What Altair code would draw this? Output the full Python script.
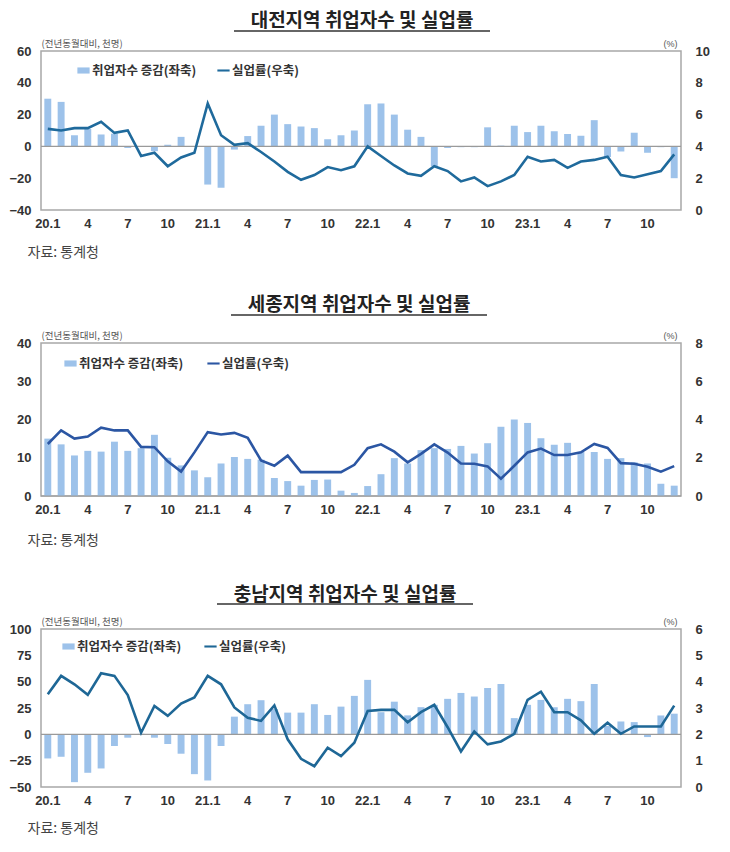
import altair as alt
import pandas as pd

KR = "Noto Sans CJK KR"
NUM = "Liberation Sans"

# 48 months: 2020.1 ~ 2023.12
years = [20, 21, 22, 23]
months = list(range(1, 13))
cats = [f"{y}-{m:02d}" for y in years for m in months]
tick_cats = cats[::3]
tick_labels = ["20.1", "4", "7", "10", "21.1", "4", "7", "10",
               "22.1", "4", "7", "10", "23.1", "4", "7", "10"]

lbl_bar = "취업자수 증감(좌축)"
lbl_line = "실업률(우축)"
source_text = "자료: 통계청"
unit_left = "(전년동월대비, 천명)"
unit_right = "(%)"

# 대전
dj_title = "대전지역 취업자수 및 실업률"
dj_emp = [30, 28, 7, 11, 7.5, 8, -1, 0, -3, 1, 6, 0,
          -24, -26, -2, 6.5, 13, 20, 14, 12.5, 11.5, 4.5, 7, 10,
          26.5, 27, 20, 10.5, 6, -12.5, -1, -0.5, -0.5, 12, 0.5, 13,
          9, 13, 9.5, 7.8, 6.7, 16.5, -6.7, -3.2, 8.6, -4, -0.5, -20]
dj_rate = [5.1, 5.0, 5.15, 5.15, 5.55, 4.85, 5.0, 3.4, 3.6, 2.75, 3.3, 3.6,
           6.7, 4.7, 4.1, 4.2, 3.65, 3.05, 2.4, 1.9, 2.2, 2.7, 2.5, 2.75,
           4.0, 3.4, 2.8, 2.3, 2.15, 2.75, 2.45, 1.8, 2.05, 1.5, 1.8, 2.2,
           3.35, 3.05, 3.15, 2.65, 3.05, 3.15, 3.35, 2.2, 2.05, 2.25, 2.45, 3.5]

# 세종
sj_title = "세종지역 취업자수 및 실업률"
sj_emp = [15.0, 13.5, 10.6, 11.8, 11.6, 14.2, 11.8, 12.5, 16, 10, 8, 6.7,
          4.9, 8.5, 10.2, 9.7, 9.5, 4.7, 3.9, 2.7, 4.2, 4.3, 1.4, 0.8,
          2.6, 5.7, 9.9, 8.5, 12.0, 12.5, 12.3, 13.1, 11.1, 13.8, 18.1, 20,
          19.1, 15.1, 13.4, 13.9, 11.5, 11.5, 9.7, 9.9, 8.8, 8.5, 3.2, 2.7]
sj_rate = [2.72, 3.43, 3.0, 3.11, 3.57, 3.43, 3.43, 2.57, 2.55, 1.81, 1.28, 2.28,
           3.34, 3.22, 3.3, 3.04, 1.86, 1.58, 2.11, 1.25, 1.25, 1.25, 1.25, 1.63,
           2.5, 2.7, 2.32, 1.76, 2.2, 2.7, 2.27, 1.7, 1.69, 1.55, 0.9, 1.58,
           2.28, 2.48, 2.14, 2.14, 2.28, 2.72, 2.51, 1.72, 1.69, 1.53, 1.27, 1.56]

# 충남
cn_title = "충남지역 취업자수 및 실업률"
cn_emp = [-22.9, -21.3, -45.4, -36.5, -32.4, -11.1, -3.2, 0.5, -3.2, -9.2, -18.4, -37.8,
          -43.8, -11.1, 16.8, 28.6, 32.4, 24, 20.6, 20.6, 28.6, 18.4, 26.3, 36.5,
          51.7, 21, 31, 18, 25.8, 28, 33.7, 39.3, 35.9, 44, 47.8, 15.4,
          28, 32.7, 25.8, 33.7, 31.5, 47.8, 8, 12.2, 11.6, -2.6, 17.9, 19.6]
cn_rate = [3.52, 4.22, 3.9, 3.5, 4.32, 4.22, 3.49, 2.06, 3.08, 2.7, 3.17, 3.4,
           4.22, 3.9, 3.02, 2.63, 2.51, 3.1, 1.81, 1.07, 0.79, 1.49, 1.17, 1.68,
           2.89, 2.93, 2.93, 2.46, 2.84, 3.12, 2.27, 1.35, 2.11, 1.62, 1.73, 2.02,
           3.31, 3.62, 2.84, 2.84, 2.53, 2.02, 2.44, 2.02, 2.3, 2.3, 2.3, 3.09]

BAR_COLOR = "#9dc2ea"
W = 640

label_map = "{" + ",".join(f"'{c}':'{l}'" for c, l in zip(tick_cats, tick_labels)) + "}"
legend_df = pd.DataFrame({"s": [lbl_bar, lbl_line]})
SHAPE_BAR = "M-1,-0.5H1V0.5H-1Z"
SHAPE_LINE = "M-1,-0.17H1V0.17H-1Z"


def panel(title, emp, rate, left_dom, left_ticks, right_dom, right_ticks,
          line_color, height, title_cx, title_y, ul_y, leg_x, leg_y, col_pad, src_y):
    df = pd.DataFrame({"month": cats, "emp": emp, "rate": rate})
    base = alt.Chart(df)
    x = alt.X("month:O", sort=cats,
              scale=alt.Scale(paddingInner=0.48, paddingOuter=0.25),
              axis=alt.Axis(values=tick_cats, labelExpr=f"{label_map}[datum.value]",
                            labelAngle=0, domain=False, ticks=False, labelOverlap=False,
                            labelFont=NUM, labelFontSize=13, labelFontWeight="bold",
                            labelColor="#333", labelPadding=7,
                            title=source_text, titleFont=KR, titleFontSize=14,
                            titleFontWeight="normal", titleColor="#444",
                            titleAnchor="start", titleAlign="left", titleX=-14,
                            titleY=src_y, titleBaseline="middle"))
    legend = alt.Legend(
        orient="none", legendX=leg_x, legendY=leg_y, direction="horizontal",
        title=None, labelFont=KR, labelFontSize=12.5, labelFontWeight="bold",
        labelColor="#333", symbolSize=150, columnPadding=col_pad, padding=0,
        labelOffset=2, symbolOpacity=1, symbolStrokeWidth=0)
    left_axis = alt.Axis(orient="left", values=left_ticks, grid=False, domain=False,
                         ticks=False, labelOverlap=False, labelFont=NUM, labelFontSize=13,
                         labelFontWeight="bold", labelColor="#333", labelPadding=10,
                         title=unit_left, titleAngle=0, titleX=0, titleY=-8,
                         titleAlign="left", titleBaseline="middle", titleFont=KR,
                         titleFontSize=9.5, titleFontWeight="normal", titleColor="#555")
    left_scale = alt.Scale(domain=left_dom, nice=False, zero=False)
    bars = base.mark_bar(color=BAR_COLOR).encode(
        x=x, y=alt.Y("emp:Q", scale=left_scale, axis=left_axis))
    zero = alt.Chart(pd.DataFrame({"v": [0]})).mark_rule(color="#9a9a9a", strokeWidth=1.2).encode(
        y=alt.Y("v:Q", scale=left_scale, axis=left_axis))
    left = alt.layer(bars, zero)
    line = base.mark_line(strokeWidth=2.6, color=line_color).encode(
        x=x,
        y=alt.Y("rate:Q", scale=alt.Scale(domain=right_dom, nice=False, zero=False),
                axis=alt.Axis(orient="right", values=right_ticks, grid=False, domain=False,
                              ticks=False, labelOverlap=False, labelFont=NUM, labelFontSize=13,
                              labelFontWeight="bold", labelColor="#333", labelPadding=14,
                              title=unit_right, titleAngle=0, titleX=-4, titleY=-8,
                              titleAlign="right", titleBaseline="middle", titleFont=NUM,
                              titleFontSize=9, titleFontWeight="normal", titleColor="#555")),
    )
    leg = alt.Chart(legend_df).mark_point(filled=True, opacity=0).encode(
        x=alt.value(0), y=alt.value(0),
        color=alt.Color("s:N", scale=alt.Scale(domain=[lbl_bar, lbl_line],
                                               range=[BAR_COLOR, line_color]), legend=legend),
        shape=alt.Shape("s:N", scale=alt.Scale(domain=[lbl_bar, lbl_line],
                                               range=[SHAPE_BAR, SHAPE_LINE]), legend=legend),
    )
    tdf = alt.Data(values=[{"t": title}])
    ttl = alt.Chart(tdf).mark_text(font=KR, fontSize=19, fontWeight="bold", color="#222",
                                   align="center", baseline="middle").encode(
        x=alt.value(title_cx), y=alt.value(title_y), text="t:N")
    ul = alt.Chart(tdf).mark_rule(color="#333", strokeWidth=1.5).encode(
        x=alt.value(title_cx - 128), x2=alt.value(title_cx + 128), y=alt.value(ul_y))
    return alt.layer(left, line, leg, ttl, ul).resolve_scale(y="independent").properties(
        width=W, height=height)


p1 = panel(dj_title, dj_emp, dj_rate, [-40, 60], [-40, -20, 0, 20, 40, 60],
           [0, 10], [0, 2, 4, 6, 8, 10], "#1f6a9c", 159, 321, -30, -20, 36, 13, 20, 42)
p2 = panel(sj_title, sj_emp, sj_rate, [0, 40], [0, 10, 20, 30, 40],
           [0, 8], [0, 2, 4, 6, 8], "#2b56a3", 153, 318, -38, -28, 23, 14, 23, 44)
p3 = panel(cn_title, cn_emp, cn_rate, [-50, 100], [-50, -25, 0, 25, 50, 75, 100],
           [0, 6], [0, 1, 2, 3, 4, 5, 6], "#1e6796", 158, 304, -34, -25, 21, 11, 22, 41)

chart = alt.vconcat(p1, p2, p3, spacing=133, bounds="flush").resolve_scale(
    color="independent", shape="independent").properties(
    padding={"left": 0, "top": 3, "right": 2, "bottom": 2}
).configure_view(stroke="#a8a8a8", strokeWidth=1.5)

chart.save("out.html", embed_options={"renderer": "svg", "actions": False})
